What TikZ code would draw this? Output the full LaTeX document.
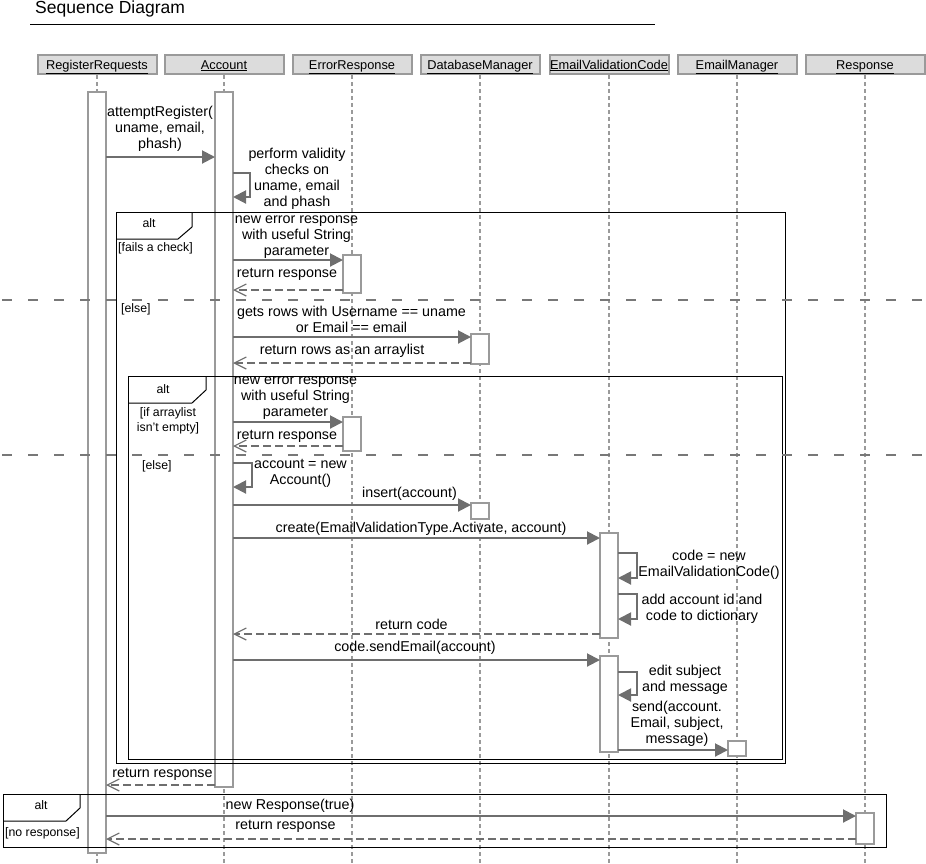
\documentclass[tikz,border=0pt]{standalone}
\usepackage{fontspec}
\setmainfont{Liberation Sans}
\usetikzlibrary{arrows.meta}

\definecolor{headfill}{HTML}{DCDCDC}
\definecolor{lgray}{HTML}{9A9A9A}
\definecolor{agray}{HTML}{6E6E6E}
\definecolor{sgray}{HTML}{787878}

\begin{document}
\begin{tikzpicture}[x=1pt,y=-1pt,
  head/.style={draw=lgray,fill=headfill,line width=2pt,minimum width=119pt,minimum height=19pt,inner sep=0pt,text height=9pt,text depth=0pt,font=\fontsize{12.8}{14}\selectfont},
  lifeline/.style={draw=lgray,line width=1.5pt,dash pattern=on 4pt off 3pt},
  bar/.style={draw=lgray,fill=white,line width=2pt,minimum width=18pt,inner sep=0pt,outer sep=0pt,anchor=north},
  msg/.style={draw=agray,line width=2pt,-{Triangle[length=13pt,width=13pt]}},
  ret/.style={draw=agray,line width=2pt,dash pattern=on 8pt off 4pt,-{Straight Barb[length=12pt,width=12pt,line width=1.2pt]}},
  txt/.style={align=center,inner sep=0pt,font=\fontsize{14.3}{16}\selectfont},
  grd/.style={align=center,inner sep=0pt,font=\fontsize{12.3}{15}\selectfont},
  frame/.style={draw=black,line width=1pt},
  sep/.style={draw=sgray,line width=2pt,dash pattern=on 10pt off 16pt}]
\useasboundingbox (0,0) rectangle (926,863);

% titel
\node[anchor=base west,inner sep=0pt,font=\fontsize{17.5}{20}\selectfont] (title) at (35,13) {Sequence Diagram};
\draw[line width=1pt] (30,24) -- (655,24);

% lifelines
\foreach \n/\x/\t in {rr/97/RegisterRequests,acc/224/Account,err/352/ErrorResponse,db/480/DatabaseManager,evc/609/EmailValidationCode,em/737/EmailManager,resp/865/Response}{
  \node[head] (\n) at (\x,64.5) {\underline{\t}};
  \draw[lifeline] (\n.south) -- (\x,863);
}

% activations
\node[bar,minimum height=761pt] (rrbar) at (rr |- 0,92) {};
\node[bar,minimum height=695pt] (accbar) at (acc |- 0,92) {};
\node[bar,minimum height=38pt] (errbarA) at (err |- 0,255) {};
\node[bar,minimum height=30pt] (dbbarA) at (db |- 0,334) {};
\node[bar,minimum height=34pt] (errbarB) at (err |- 0,417) {};
\node[bar,minimum height=16pt] (dbbarB) at (db |- 0,503) {};
\node[bar,minimum height=105pt] (evcbarA) at (evc |- 0,533) {};
\node[bar,minimum height=96pt] (evcbarB) at (evc |- 0,656) {};
\node[bar,minimum height=15pt] (embar) at (em |- 0,741) {};
\node[bar,minimum height=31pt] (respbar) at (resp |- 0,813) {};

% alt frames
\draw[frame] (116,212) rectangle (785,763);
\draw[frame] (116,239) -- (178,239) -- (192,227) -- (192,212);
\draw[frame] (128,376) rectangle (782,759);
\draw[frame] (128,403) -- (192,403) -- (206,390) -- (206,376);
\draw[frame] (3.5,794) rectangle (886.5,847);
\draw[frame] (3.5,821) -- (66,821) -- (80,808) -- (80,794);
\draw[sep] (2,300) -- (926,300); % else
\draw[sep] (2,455) -- (926,455);

\node[grd] (altA) at (149,223) {alt};
\node[grd] (altB) at (163,389) {alt};
\node[grd] (altC) at (41,805) {alt};
\node[grd,anchor=west] (gA) at (118,248) {[fails a check]};
\node[grd,anchor=west] (gB) at (121,309) {[else]};
\node[grd] (gC) at (168,420.5) {[if arraylist\\isn't empty]};
\node[grd,anchor=west] (gD) at (142,466) {[else]};
\node[grd,anchor=west] (gE) at (5,833) {[no response]};

% messages
\draw[msg] (rrbar.east |- 0,157) -- (accbar.west |- 0,157);
\draw[msg] (accbar.east |- 0,173) -- ++(17,0) |- (accbar.east |- 0,197);
\draw[msg] (accbar.east |- 0,260) -- (errbarA.west |- 0,260);
\draw[ret] (errbarA.west |- 0,290) -- (accbar.east |- 0,290);
\draw[msg] (accbar.east |- 0,337) -- (dbbarA.west |- 0,337);
\draw[ret] (dbbarA.west |- 0,363) -- (accbar.east |- 0,363);
\draw[msg] (accbar.east |- 0,422) -- (errbarB.west |- 0,422);
\draw[ret] (errbarB.west |- 0,446) -- (accbar.east |- 0,446);
\draw[msg] (accbar.east |- 0,463) -- ++(19,0) |- (accbar.east |- 0,487);
\draw[msg] (accbar.east |- 0,505) -- (dbbarB.west |- 0,505);
\draw[msg] (accbar.east |- 0,538) -- (evcbarA.west |- 0,538);
\draw[msg] (evcbarA.east |- 0,553) -- ++(19,0) |- (evcbarA.east |- 0,578);
\draw[msg] (evcbarA.east |- 0,594) -- ++(19,0) |- (evcbarA.east |- 0,619);
\draw[ret] (evcbarA.west |- 0,634) -- (accbar.east |- 0,634);
\draw[msg] (accbar.east |- 0,660) -- (evcbarB.west |- 0,660);
\draw[msg] (evcbarB.east |- 0,672) -- ++(19,0) |- (evcbarB.east |- 0,695);
\draw[msg] (evcbarB.east |- 0,750) -- (embar.west |- 0,750);
\draw[ret] (accbar.west |- 0,785) -- (rrbar.east |- 0,785);
\draw[msg] (rrbar.east |- 0,816) -- (respbar.west |- 0,816);
\draw[ret] (respbar.west |- 0,839) -- (rrbar.east |- 0,839);

% labels
\node[txt] (m1) at (160,129) {attemptRegister(\\uname, email,\\phash)};
\node[txt] (m2) at (297,178.5) {perform validity\\checks on\\uname, email\\and phash};
\node[txt] (m3) at (296.5,237) {new error response\\with useful String\\parameter};
\node[txt] (m4) at (287,274) {return response};
\node[txt] (m5) at (351.5,319.5) {gets rows with Username == uname\\or Email == email};
\node[txt] (m6) at (342,351) {return rows as an arraylist};
\node[txt] (m7) at (295.5,398.3) {new error response\\with useful String\\parameter};
\node[txt] (m8) at (287,436) {return response};
\node[txt] (m9) at (300.5,473) {account = new\\Account()};
\node[txt] (m10) at (409.5,494) {insert(account)};
\node[txt] (m11) at (421,529) {create(EmailValidationType.Activate, account)};
\node[txt] (m12) at (709,564.5) {code = new\\EmailValidationCode()};
\node[txt] (m13) at (702,608.5) {add account id and\\code to dictionary};
\node[txt] (m14) at (411.5,624) {return code};
\node[txt] (m15) at (415,648) {code.sendEmail(account)};
\node[txt] (m16) at (685,680) {edit subject\\and message};
\node[txt] (m17) at (677,724) {send(account.\\Email, subject,\\message)};
\node[txt] (m18) at (162.5,774) {return response};
\node[txt] (m19) at (290,806) {new Response(true)};
\node[txt] (m20) at (285.5,826) {return response};
\end{tikzpicture}
\end{document}
